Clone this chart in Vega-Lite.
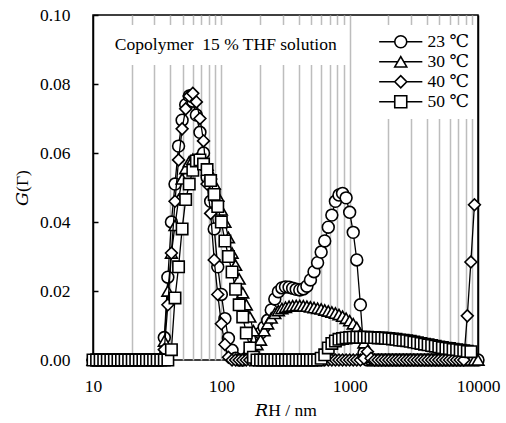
{
"$schema": "https://vega.github.io/schema/vega-lite/v6.json",
"width": 385, "height": 345,
"autosize": "none",
"padding": {"left": 93, "top": 15, "right": 28, "bottom": 63},
"background": "white",
"config": {"view": {"stroke": "black", "strokeWidth": 1.5}, "font": "Liberation Serif, DejaVu Serif, serif"},
"data": {"values": [
{"x":10,"a":0,"b":0,"c":0,"d":0},
{"x":10.66,"a":0,"b":0,"c":0,"d":0},
{"x":11.36,"a":0,"b":0,"c":0,"d":0},
{"x":12.12,"a":0,"b":0,"c":0,"d":0},
{"x":12.92,"a":0,"b":0,"c":0,"d":0},
{"x":13.77,"a":0,"b":0,"c":0,"d":0},
{"x":14.68,"a":0,"b":0,"c":0,"d":0},
{"x":15.65,"a":0,"b":0,"c":0,"d":0},
{"x":16.68,"a":0,"b":0,"c":0,"d":0},
{"x":17.78,"a":0,"b":0,"c":0,"d":0},
{"x":18.96,"a":0,"b":0,"c":0,"d":0},
{"x":20.21,"a":0,"b":0,"c":0,"d":0},
{"x":21.54,"a":0,"b":0,"c":0,"d":0},
{"x":22.97,"a":0,"b":0,"c":0,"d":0},
{"x":24.48,"a":0,"b":0,"c":0,"d":0},
{"x":26.10,"a":0,"b":0,"c":0,"d":0},
{"x":27.83,"a":0,"b":0,"c":0,"d":0},
{"x":29.66,"a":0,"b":0,"c":0,"d":0},
{"x":31.62,"a":0,"b":0,"c":0,"d":0},
{"x":33.71,"a":0,"b":0.001,"c":0,"d":0},
{"x":35.94,"a":0.0065,"b":0.0055,"c":0.003,"d":0},
{"x":38.31,"a":0.024,"b":0.020,"c":0.016,"d":0},
{"x":40.84,"a":0.040,"b":0.031,"c":0.031,"d":0.003},
{"x":43.54,"a":0.051,"b":0.039,"c":0.046,"d":0.018},
{"x":46.42,"a":0.062,"b":0.0465,"c":0.058,"d":0.027},
{"x":49.48,"a":0.0695,"b":0.0525,"c":0.067,"d":0.038},
{"x":52.75,"a":0.074,"b":0.0555,"c":0.0728,"d":0.0465},
{"x":56.23,"a":0.0765,"b":0.0575,"c":0.0765,"d":0.051},
{"x":59.95,"a":0.075,"b":0.0582,"c":0.0773,"d":0.055},
{"x":63.91,"a":0.071,"b":0.0583,"c":0.0748,"d":0.0577},
{"x":68.13,"a":0.066,"b":0.058,"c":0.070,"d":0.058},
{"x":72.63,"a":0.060,"b":0.0575,"c":0.0635,"d":0.0568},
{"x":77.43,"a":0.053,"b":0.0565,"c":0.051,"d":0.0552},
{"x":82.54,"a":0.046,"b":0.054,"c":0.0425,"d":0.052},
{"x":87.99,"a":0.038,"b":0.051,"c":0.029,"d":0.048},
{"x":93.80,"a":0.027,"b":0.0475,"c":0.019,"d":0.0445},
{"x":100,"a":0.019,"b":0.0435,"c":0.0105,"d":0.040},
{"x":106.6,"a":0.012,"b":0.040,"c":0.0045,"d":0.0345},
{"x":113.6,"a":0.0063,"b":0.0355,"c":0.0008,"d":0.030},
{"x":121.2,"a":0.0028,"b":0.031,"c":0,"d":0.0255},
{"x":129.2,"a":0.0005,"b":0.0275,"c":0,"d":0.0205},
{"x":137.7,"a":0,"b":0.0235,"c":0,"d":0.016},
{"x":146.8,"a":0,"b":0.0195,"c":0,"d":0.0125},
{"x":156.5,"a":0.0005,"b":0.016,"c":0,"d":0.0078},
{"x":166.8,"a":0.002,"b":0.0125,"c":0,"d":0.0035},
{"x":177.8,"a":0.004,"b":0.0085,"c":0,"d":0.0008},
{"x":189.6,"a":0.006,"b":0.0045,"c":0,"d":0},
{"x":202.1,"a":0.0078,"b":0.0058,"c":0,"d":0},
{"x":215.4,"a":0.0095,"b":0.0085,"c":0,"d":0},
{"x":229.7,"a":0.0115,"b":0.0105,"c":0,"d":0},
{"x":244.8,"a":0.0145,"b":0.0122,"c":0,"d":0},
{"x":261.0,"a":0.0177,"b":0.0135,"c":0,"d":0},
{"x":278.3,"a":0.0198,"b":0.0143,"c":0,"d":0},
{"x":296.6,"a":0.0209,"b":0.0149,"c":0,"d":0},
{"x":316.2,"a":0.0212,"b":0.0153,"c":0,"d":0},
{"x":337.1,"a":0.0211,"b":0.0156,"c":0,"d":0},
{"x":359.4,"a":0.0208,"b":0.0157,"c":0,"d":0},
{"x":383.1,"a":0.0205,"b":0.0158,"c":0,"d":0},
{"x":408.4,"a":0.0203,"b":0.0158,"c":0,"d":0},
{"x":435.4,"a":0.0206,"b":0.0157,"c":0,"d":0},
{"x":464.2,"a":0.0214,"b":0.0156,"c":0,"d":0},
{"x":494.8,"a":0.0232,"b":0.0154,"c":0,"d":0},
{"x":527.5,"a":0.0256,"b":0.0152,"c":0,"d":0},
{"x":562.3,"a":0.0282,"b":0.0150,"c":0,"d":0},
{"x":599.5,"a":0.0313,"b":0.0148,"c":0,"d":0.0005},
{"x":639.1,"a":0.0345,"b":0.0145,"c":0,"d":0.0015},
{"x":681.3,"a":0.0385,"b":0.0142,"c":0,"d":0.0035},
{"x":726.3,"a":0.042,"b":0.0139,"c":0,"d":0.0048},
{"x":774.3,"a":0.046,"b":0.0136,"c":0,"d":0.0055},
{"x":825.4,"a":0.0478,"b":0.0132,"c":0,"d":0.006},
{"x":879.9,"a":0.0483,"b":0.0127,"c":0,"d":0.0062},
{"x":938.0,"a":0.047,"b":0.0121,"c":0,"d":0.0064},
{"x":1000,"a":0.0428,"b":0.0114,"c":0,"d":0.0065},
{"x":1066,"a":0.037,"b":0.0105,"c":0,"d":0.0066},
{"x":1136,"a":0.029,"b":0.0094,"c":0,"d":0.0066},
{"x":1212,"a":0.016,"b":0.0076,"c":0,"d":0.0066},
{"x":1292,"a":0.002,"b":0.005,"c":0.0005,"d":0.0066},
{"x":1377,"a":0,"b":0.0025,"c":0.0024,"d":0.0066},
{"x":1468,"a":0,"b":0.0008,"c":0.0005,"d":0.0065},
{"x":1565,"a":0,"b":0,"c":0,"d":0.0065},
{"x":1668,"a":0,"b":0,"c":0,"d":0.0064},
{"x":1778,"a":0,"b":0,"c":0,"d":0.0064},
{"x":1896,"a":0,"b":0,"c":0,"d":0.0063},
{"x":2021,"a":0,"b":0,"c":0,"d":0.0062},
{"x":2154,"a":0,"b":0,"c":0,"d":0.0061},
{"x":2297,"a":0,"b":0,"c":0,"d":0.0060},
{"x":2448,"a":0,"b":0,"c":0,"d":0.0058},
{"x":2610,"a":0,"b":0,"c":0,"d":0.0057},
{"x":2783,"a":0,"b":0,"c":0,"d":0.0056},
{"x":2966,"a":0,"b":0,"c":0,"d":0.0054},
{"x":3162,"a":0,"b":0,"c":0,"d":0.0052},
{"x":3371,"a":0,"b":0,"c":0,"d":0.0050},
{"x":3594,"a":0,"b":0,"c":0,"d":0.0048},
{"x":3831,"a":0,"b":0,"c":0,"d":0.0046},
{"x":4084,"a":0,"b":0,"c":0,"d":0.0044},
{"x":4354,"a":0,"b":0,"c":0,"d":0.0042},
{"x":4642,"a":0,"b":0,"c":0,"d":0.0040},
{"x":4948,"a":0,"b":0,"c":0,"d":0.0038},
{"x":5275,"a":0,"b":0,"c":0,"d":0.0036},
{"x":5623,"a":0,"b":0,"c":0,"d":0.0034},
{"x":5995,"a":0,"b":0,"c":0,"d":0.0033},
{"x":6391,"a":0,"b":0,"c":0,"d":0.0031},
{"x":6813,"a":0,"b":0,"c":0,"d":0.0030},
{"x":7263,"a":0,"b":0,"c":0,"d":0.0028},
{"x":7743,"a":0,"b":0,"c":0,"d":0.0027},
{"x":8254,"a":0,"b":0,"c":0.0128,"d":0.0025},
{"x":8799,"a":0,"b":0,"c":0.0284,"d":0.0024},
{"x":9380,"a":0,"b":0,"c":0.045,"d":null},
{"x":10000,"a":0,"b":0,"c":null,"d":null}
]},
"transform": [{"fold": ["a","b","c","d"], "as": ["s","v"]}],
"layer": [
{"data": {"values": [{}]},
 "mark": {"type": "rect", "fill": "white"},
 "encoding": {"x": {"datum": 12.4, "type": "quantitative"}, "x2": {"datum": 960}, "y": {"datum": 0.0855, "type": "quantitative"}, "y2": {"datum": 0.0971}}},
{"data": {"values": [{}]},
 "mark": {"type": "rect", "fill": "white"},
 "encoding": {"x": {"datum": 1500, "type": "quantitative"}, "x2": {"datum": 9800}, "y": {"datum": 0.0703, "type": "quantitative"}, "y2": {"datum": 0.0971}}},
{"data": {"values": [{}]},
 "mark": {"type": "text", "text": "Copolymer\u00a0 15 % THF solution", "align": "left", "baseline": "middle", "font": "Liberation Serif, DejaVu Serif, serif", "fontSize": 17.5, "color": "black"},
 "encoding": {"x": {"datum": 14.8, "type": "quantitative"}, "y": {"datum": 0.0913, "type": "quantitative"}}},
{"transform": [{"filter": "datum.s == 'a'"}],
 "mark": {"type": "line", "color": "black", "strokeWidth": 1.3, "point": {"shape": "circle", "filled": true, "fill": "white", "stroke": "black", "strokeWidth": 1.6, "size": 140}},
 "encoding": {
  "x": {"field": "x", "type": "quantitative", "scale": {"type": "log", "domain": [10, 10000], "nice": false},
   "axis": {"values": [10,20,30,40,50,60,70,80,90,100,200,300,400,500,600,700,800,900,1000,2000,3000,4000,5000,6000,7000,8000,9000,10000],
    "labelExpr": "indexof([10,100,1000,10000], datum.value) >= 0 ? format(datum.value, 'd') : ''",
    "ticks": false, "domain": false, "grid": true,
    "gridColor": {"condition": {"test": "datum.value == 10 || datum.value == 10000", "value": "black"}, "value": "#bdbdbd"},
    "gridWidth": 1.5, "labelFont": "Liberation Serif, DejaVu Serif, serif", "labelFontSize": 17.5, "labelColor": "black", "labelPadding": 17, "labelFlush": false, "labelOverlap": false,
    "title": "𝑅H / nm", "titleFont": "Liberation Serif, DejaVu Serif, serif", "titleFontSize": 17.5, "titleFontWeight": "normal", "titleColor": "black", "titlePadding": 7}},
  "y": {"field": "v", "type": "quantitative", "scale": {"domain": [0, 0.1], "nice": false},
   "axis": {"values": [0,0.02,0.04,0.06,0.08,0.1], "format": ".2f", "domain": false, "grid": false,
    "tickSize": -5, "tickColor": "black", "tickWidth": 1.5,
    "labelFont": "Liberation Serif, DejaVu Serif, serif", "labelFontSize": 17.5, "labelColor": "black", "labelPadding": 28,
    "title": "𝐺(Γ)", "titleFont": "Liberation Serif, DejaVu Serif, serif", "titleFontSize": 17.5, "titleFontWeight": "normal", "titleColor": "black", "titlePadding": 8}}
 }},
{"transform": [{"filter": "datum.s == 'b'"}],
 "mark": {"type": "line", "color": "black", "strokeWidth": 1.3, "point": {"shape": "triangle-up", "filled": true, "fill": "white", "stroke": "black", "strokeWidth": 1.6, "size": 140}},
 "encoding": {"x": {"field": "x", "type": "quantitative"}, "y": {"field": "v", "type": "quantitative"}}},
{"transform": [{"filter": "datum.s == 'c'"}],
 "mark": {"type": "line", "color": "black", "strokeWidth": 1.3, "point": {"shape": "diamond", "filled": true, "fill": "white", "stroke": "black", "strokeWidth": 1.6, "size": 140}},
 "encoding": {"x": {"field": "x", "type": "quantitative"}, "y": {"field": "v", "type": "quantitative"}}},
{"transform": [{"filter": "datum.s == 'd'"}],
 "mark": {"type": "line", "color": "black", "strokeWidth": 1.3, "point": {"shape": "square", "filled": true, "fill": "white", "stroke": "black", "strokeWidth": 1.6, "size": 130}},
 "encoding": {"x": {"field": "x", "type": "quantitative"}, "y": {"field": "v", "type": "quantitative"}}},
{"data": {"values": [{"t": "23 ℃"}, {"t": "30 ℃"}, {"t": "40 ℃"}, {"t": "50 ℃"}]},
 "transform": [{"filter": "datum.t == 'none'"}],
 "mark": {"type": "point", "filled": false, "color": "black", "strokeWidth": 1.6, "opacity": 1},
 "encoding": {"shape": {"field": "t", "type": "nominal",
   "scale": {"domain": ["23 ℃", "30 ℃", "40 ℃", "50 ℃"],
    "range": ["M-3.6,0H-1M1,0H3.6M-1,0A1,1,0,1,1,1,0A1,1,0,1,1,-1,0Z",
              "M-3.6,0H-0.5M0.5,0H3.6M0,-0.866L-1,0.866L1,0.866Z",
              "M-3.6,0H-1M1,0H3.6M-1,0L0,-1L1,0L0,1Z",
              "M-3.6,0H-1M1,0H3.6M-1,-1H1V1H-1Z"]},
   "legend": {"orient": "none", "legendX": 291, "legendY": 10, "title": null, "fillColor": "white", "padding": 8,
    "symbolSize": 144, "symbolStrokeWidth": 1.6, "symbolStrokeColor": "black", "symbolFillColor": "white", "symbolOpacity": 1,
    "labelFont": "Liberation Serif, DejaVu Serif, serif", "labelFontSize": 17.5, "labelColor": "black", "labelOffset": 18, "rowPadding": 1}}}}
]
}
